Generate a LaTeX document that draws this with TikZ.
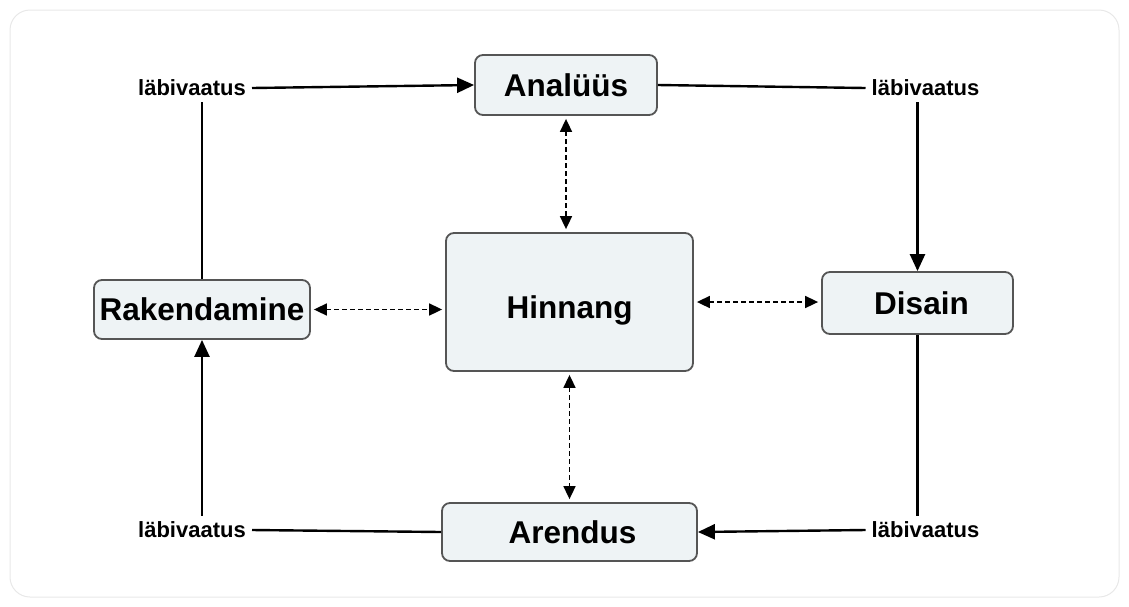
\documentclass[tikz,border=0pt]{standalone}
\usepackage{fontspec}
\setmainfont{Liberation Sans}
\usetikzlibrary{arrows.meta}
\definecolor{boxfill}{HTML}{EEF3F5}
\definecolor{boxline}{HTML}{555555}
\definecolor{framecol}{HTML}{E8E8E8}
\begin{document}
\begin{tikzpicture}[x=1pt,y=-1pt,
  stage/.style={draw=boxline, line width=1.8pt, fill=boxfill, rounded corners=8pt,
    font=\fontsize{31.5}{36}\selectfont\bfseries, inner sep=0pt,
    text height=22.5pt, text depth=0pt},
  lbl/.style={font=\fontsize{22}{26}\selectfont\bfseries, inner sep=6pt},
  flow/.style={line width=2.4pt, -{Triangle[length=17pt,width=15pt]}},
  plainline/.style={line width=2.4pt},
  dashlink/.style={line width=1.7pt, dash pattern=on 5pt off 3pt,
    {Triangle[length=13pt,width=12pt]}-{Triangle[length=13pt,width=12pt]},
    shorten <=3pt, shorten >=3pt}]
\useasboundingbox (0,0) rectangle (1129,606);
\draw[framecol, line width=1pt, rounded corners=20pt] (10,10) rectangle (1119,597);

\node[stage, minimum width=182pt, minimum height=60pt] (ana) at (566,85) {Analüüs};
\node[stage, minimum width=247pt, minimum height=138pt, text height=32pt] (hin) at (569.5,302) {Hinnang};
\node[stage, minimum width=191pt, minimum height=62pt] (dis) at (917.5,303) {\hspace{8pt}Disain};
\node[stage, minimum width=216pt, minimum height=59pt] (rak) at (202,309.5) {Rakendamine};
\node[stage, minimum width=255pt, minimum height=58pt] (are) at (569.5,532) {\hspace{6pt}Arendus};

\node[lbl] (tl) at (192,88) {läbivaatus};
\node[lbl] (tr) at (925.5,88) {läbivaatus};
\node[lbl] (br) at (925.5,530) {läbivaatus};
\node[lbl] (bl) at (192,530) {läbivaatus};

\draw[flow] (tl.east) -- (ana.west);
\draw[plainline] (ana.east) -- (tr.west);
\draw[flow] (tr.south -| dis.north) -- (dis.north);
\draw[plainline] (dis.south) -- (dis.south |- br.north);
\draw[flow] (br.west) -- (are.east);
\draw[plainline] (are.west) -- (bl.east);
\draw[flow] (bl.north -| rak.south) -- (rak.south);
\draw[plainline] (rak.north) -- (rak.north |- tl.south);

\draw[dashlink] (ana.south) -- (ana.south |- hin.north);
\draw[dashlink] (hin.south) -- (are.north);
\draw[dashlink] (rak.east) -- (rak.east -| hin.west);
\draw[dashlink] (hin.east) -- (hin.east -| dis.west);
\end{tikzpicture}
\end{document}
